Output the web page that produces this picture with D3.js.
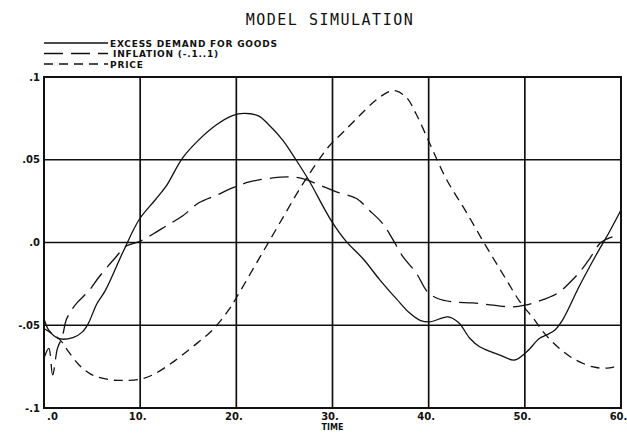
<!DOCTYPE html>
<html lang="en">
<head>
    <meta charset="UTF-8">
    <title>Model Simulation</title>
    <script src="https://d3js.org/d3.v7.min.js"></script>
    <style>
        body { margin: 0; background: #fff; }
        svg { display: block; background: #fff; }
        text { fill: #111; }
        .tick-label { font-family: 'DejaVu Sans', sans-serif; font-size: 10px; font-weight: bold; }
        .legend-label { font-family: 'DejaVu Sans', sans-serif; font-size: 9px; font-weight: bold; letter-spacing: 0.8px; }
        .axis-title { font-family: 'DejaVu Sans', sans-serif; font-size: 8px; font-weight: bold; }
        .title { font-family: 'DejaVu Sans Mono', monospace; font-size: 15px; letter-spacing: 1.5px; }
    </style>
</head>
<body>
    <svg width="627" height="435"></svg>

    <script>
        const width = 627, height = 435;
        const margin = { top: 77, right: 6, bottom: 27, left: 44 };

        // axis ticks
        const xTicks = [0, 10, 20, 30, 40, 50, 60];
        const xTickLabels = [".0", "10.", "20.", "30.", "40.", "50.", "60."];
        const yTicks = [-0.1, -0.05, 0, 0.05, 0.1];
        const yTickLabels = ["-.1", "-.05", ".0", ".05", ".1"];

        // excess demand for goods (solid)
        const excessT = [0, 0.5, 1.5, 3, 4, 4.6, 5.5, 6.4, 8.2, 9.9, 11.6, 12.7, 14.4, 16.1, 17.9, 19.6, 20.8, 22.3, 23.4, 24.8, 26.2, 27.6, 29.0, 30.0, 31.4, 33.2, 34.9, 36.7, 38.0, 39.1, 40.1, 42.0, 43.1, 44.3, 45.3, 47.4, 48.9, 50.2, 51.5, 52.2, 53.1, 53.9, 55.7, 57.4, 58.8, 60];
        const excessV = [-0.046, -0.053, -0.058, -0.0575, -0.054, -0.049, -0.037, -0.0288, -0.0059, 0.0139, 0.026, 0.034, 0.051, 0.062, 0.071, 0.0767, 0.078, 0.0765, 0.071, 0.062, 0.050, 0.037, 0.022, 0.012, 0.0008, -0.010, -0.0224, -0.0344, -0.0425, -0.047, -0.048, -0.045, -0.0484, -0.058, -0.063, -0.068, -0.071, -0.066, -0.058, -0.056, -0.053, -0.047, -0.026, -0.0077, 0.0065, 0.0196];

        // inflation (-.1..1) (long dash)
        const inflationT = [0, 0.5, 0.9, 1.4, 1.9, 2.3, 2.95, 3.5, 4.7, 5.7, 7.3, 8.6, 9.9, 11.3, 12.7, 14.4, 16.1, 17.9, 19.6, 21.35, 23.8, 25.5, 26.9, 28.7, 30.4, 32.5, 33.8, 35.2, 36.3, 37.3, 38.7, 39.9, 41.0, 42.5, 44.6, 46.7, 48.8, 50.0, 51.2, 53.3, 55.4, 56.6, 58.0, 60];
        const inflationV = [-0.070, -0.064, -0.080, -0.064, -0.057, -0.047, -0.040, -0.036, -0.029, -0.021, -0.010, -0.002, 0.0005, 0.005, 0.010, 0.016, 0.024, 0.0285, 0.033, 0.0366, 0.039, 0.0396, 0.0386, 0.0346, 0.0306, 0.0266, 0.0196, 0.0116, 0.0016, -0.0084, -0.0184, -0.030, -0.034, -0.0359, -0.0365, -0.0379, -0.0389, -0.0379, -0.0359, -0.031, -0.0198, -0.011, 0.0004, 0.005];

        // price (short dash)
        const priceT = [0, 0.8, 1.7, 2.43, 3.65, 5.0, 6.9, 8.2, 9.9, 11.3, 13.4, 15.45, 17.5, 19.3, 20.0, 21.9, 23.4, 25.0, 26.4, 27.95, 29.7, 31.1, 32.8, 34.5, 35.9, 36.6, 37.7, 38.7, 40.1, 41.8, 43.9, 45.9, 48.0, 49.5, 50.9, 52.2, 53.6, 55.0, 57.1, 58.8, 60];
        const priceV = [-0.052, -0.055, -0.059, -0.065, -0.074, -0.080, -0.083, -0.0833, -0.0827, -0.080, -0.0723, -0.063, -0.053, -0.040, -0.0334, -0.0144, 0.0006, 0.0166, 0.0306, 0.0446, 0.0586, 0.0666, 0.0766, 0.086, 0.0912, 0.0916, 0.0876, 0.0776, 0.060, 0.0387, 0.0185, -0.0016, -0.0218, -0.0359, -0.046, -0.056, -0.064, -0.070, -0.0752, -0.0758, -0.0738];

        const seriesNames = ["EXCESS DEMAND FOR GOODS", "INFLATION (-.1..1)", "PRICE"];

        const series = [
            { name: seriesNames[0], t: excessT, v: excessV, dash: null },
            { name: seriesNames[1], t: inflationT, v: inflationV, dash: "19,8" },
            { name: seriesNames[2], t: priceT, v: priceV, dash: "9,6" }
        ];

        const svg = d3.select("svg");

        const x = d3.scaleLinear().domain([0, 60]).range([margin.left, width - margin.right]);
        const y = d3.scaleLinear().domain([-0.1, 0.1]).range([height - margin.bottom, margin.top]);

        // title
        svg.append("text")
            .attr("class", "title")
            .attr("x", 330)
            .attr("y", 25)
            .attr("text-anchor", "middle")
            .text("MODEL SIMULATION");

        // legend
        const legend = svg.append("g");
        series.forEach((s, i) => {
            const ly = 43 + i * 10.5;
            legend.append("line")
                .attr("x1", 44).attr("x2", 108)
                .attr("y1", ly).attr("y2", ly)
                .attr("stroke", "#111")
                .attr("stroke-width", 1.3)
                .attr("stroke-dasharray", s.dash);
            legend.append("text")
                .attr("class", "legend-label")
                .attr("x", i === 1 ? 113 : 110)
                .attr("y", ly + 3.5)
                .text(s.name);
        });

        // grid
        const grid = svg.append("g").attr("stroke", "#111").attr("stroke-width", 1.7);
        grid.selectAll("line.v")
            .data(xTicks.slice(1, -1))
            .join("line")
            .attr("x1", d => x(d)).attr("x2", d => x(d))
            .attr("y1", y(0.1)).attr("y2", y(-0.1));
        grid.selectAll("line.h")
            .data(yTicks.slice(1, -1))
            .join("line")
            .attr("x1", x(0)).attr("x2", x(60))
            .attr("y1", d => y(d)).attr("y2", d => y(d));

        // frame
        svg.append("rect")
            .attr("x", x(0)).attr("y", y(0.1))
            .attr("width", x(60) - x(0))
            .attr("height", y(-0.1) - y(0.1))
            .attr("fill", "none")
            .attr("stroke", "#111")
            .attr("stroke-width", 2);

        // axes labels
        const xAxis = d3.axisBottom(x).tickValues(xTicks).tickSize(0)
            .tickFormat((d, i) => xTickLabels[i]);
        const gx = svg.append("g")
            .attr("transform", `translate(0,${y(-0.1)})`)
            .call(xAxis);
        gx.select(".domain").remove();
        gx.selectAll("text")
            .attr("class", "tick-label")
            .attr("dy", null)
            .attr("y", 12)
            .attr("dx", (d, i) => i === 0 ? 8 : -3);

        const yAxis = d3.axisLeft(y).tickValues(yTicks).tickSize(0)
            .tickFormat((d, i) => yTickLabels[i]);
        const gy = svg.append("g")
            .attr("transform", `translate(${x(0) - 4},0)`)
            .call(yAxis);
        gy.select(".domain").remove();
        gy.selectAll("text").attr("class", "tick-label").attr("x", 0);

        svg.append("text")
            .attr("class", "axis-title")
            .attr("x", x(30))
            .attr("y", 430)
            .attr("text-anchor", "middle")
            .text("TIME");

        // curves
        const line = d3.line()
            .x(d => x(d[0]))
            .y(d => y(d[1]))
            .curve(d3.curveCatmullRom.alpha(0.5));

        svg.append("g").selectAll("path")
            .data(series)
            .join("path")
            .attr("d", s => line(s.t.map((t, i) => [t, s.v[i]])))
            .attr("fill", "none")
            .attr("stroke", "#111")
            .attr("stroke-width", 1.3)
            .attr("stroke-dasharray", s => s.dash);
    </script>
</body>
</html>
